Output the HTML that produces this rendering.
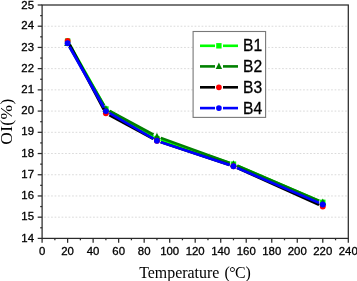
<!DOCTYPE html>
<html><head><meta charset="utf-8"><title>OI vs Temperature</title>
<style>html,body{margin:0;padding:0;background:#fff}body{width:357px;height:281px;overflow:hidden}svg{display:block}.t{font-family:"Liberation Sans",Arial,sans-serif;font-size:11.4px;fill:#000;stroke:#000;stroke-width:0.3px}.s{font-family:"Liberation Serif","Times New Roman",serif;fill:#000}.l{font-family:"Liberation Sans",Arial,sans-serif;font-size:15.6px;fill:#000;stroke:#000;stroke-width:0.3px}</style></head><body>
<svg width="357" height="281" viewBox="0 0 357 281">
<rect width="357" height="281" fill="#fff"/>
<line x1="42.10" x2="348.30" y1="217.18" y2="217.18" stroke="#dadada" stroke-width="1" stroke-dasharray="1.7 1.8" stroke-dashoffset="-2"/>
<line x1="42.10" x2="348.30" y1="195.96" y2="195.96" stroke="#dadada" stroke-width="1" stroke-dasharray="1.7 1.8" stroke-dashoffset="-2"/>
<line x1="42.10" x2="348.30" y1="174.75" y2="174.75" stroke="#dadada" stroke-width="1" stroke-dasharray="1.7 1.8" stroke-dashoffset="-2"/>
<line x1="42.10" x2="348.30" y1="153.53" y2="153.53" stroke="#dadada" stroke-width="1" stroke-dasharray="1.7 1.8" stroke-dashoffset="-2"/>
<line x1="42.10" x2="348.30" y1="132.31" y2="132.31" stroke="#dadada" stroke-width="1" stroke-dasharray="1.7 1.8" stroke-dashoffset="-2"/>
<line x1="42.10" x2="348.30" y1="111.09" y2="111.09" stroke="#dadada" stroke-width="1" stroke-dasharray="1.7 1.8" stroke-dashoffset="-2"/>
<line x1="42.10" x2="348.30" y1="89.87" y2="89.87" stroke="#dadada" stroke-width="1" stroke-dasharray="1.7 1.8" stroke-dashoffset="-2"/>
<line x1="42.10" x2="348.30" y1="68.65" y2="68.65" stroke="#dadada" stroke-width="1" stroke-dasharray="1.7 1.8" stroke-dashoffset="-2"/>
<line x1="42.10" x2="348.30" y1="47.44" y2="47.44" stroke="#dadada" stroke-width="1" stroke-dasharray="1.7 1.8" stroke-dashoffset="-2"/>
<line x1="42.10" x2="348.30" y1="26.22" y2="26.22" stroke="#dadada" stroke-width="1" stroke-dasharray="1.7 1.8" stroke-dashoffset="-2"/>
<line transform="scale(1.2,1)" x1="57.98" y1="44.56" x2="86.61" y2="105.48" stroke="#00ff00" stroke-width="2.5"/>
<line transform="scale(1.2,1)" x1="91.12" y1="110.98" x2="127.89" y2="136.66" stroke="#00ff00" stroke-width="2.5"/>
<line transform="scale(1.2,1)" x1="133.93" y1="139.94" x2="191.40" y2="162.87" stroke="#00ff00" stroke-width="2.5"/>
<line transform="scale(1.2,1)" x1="197.63" y1="165.71" x2="265.92" y2="200.76" stroke="#00ff00" stroke-width="2.5"/>
<rect x="64.92" y="38.37" width="5.4" height="5.4" fill="#00ff00"/>
<rect x="103.19" y="106.27" width="5.4" height="5.4" fill="#00ff00"/>
<rect x="154.23" y="135.97" width="5.4" height="5.4" fill="#00ff00"/>
<rect x="230.78" y="161.44" width="5.4" height="5.4" fill="#00ff00"/>
<rect x="320.08" y="199.63" width="5.4" height="5.4" fill="#00ff00"/>
<line transform="scale(1.2,1)" x1="58.02" y1="46.65" x2="86.57" y2="105.51" stroke="#008000" stroke-width="2.5"/>
<line transform="scale(1.2,1)" x1="91.18" y1="110.87" x2="127.84" y2="134.65" stroke="#008000" stroke-width="2.5"/>
<line transform="scale(1.2,1)" x1="133.91" y1="137.91" x2="191.43" y2="162.78" stroke="#008000" stroke-width="2.5"/>
<line transform="scale(1.2,1)" x1="197.63" y1="165.71" x2="265.92" y2="200.76" stroke="#008000" stroke-width="2.5"/>
<polygon points="67.62,39.29 71.12,46.09 64.12,46.09" fill="#008000"/>
<polygon points="105.89,105.07 109.39,111.87 102.39,111.87" fill="#008000"/>
<polygon points="156.93,132.65 160.43,139.45 153.43,139.45" fill="#008000"/>
<polygon points="233.47,160.24 236.97,167.04 229.97,167.04" fill="#008000"/>
<polygon points="322.78,198.43 326.28,205.23 319.28,205.23" fill="#008000"/>
<line transform="scale(1.2,1)" x1="57.91" y1="44.60" x2="86.68" y2="109.68" stroke="#000000" stroke-width="2.5"/>
<line transform="scale(1.2,1)" x1="91.18" y1="115.11" x2="127.84" y2="138.89" stroke="#000000" stroke-width="2.5"/>
<line transform="scale(1.2,1)" x1="133.93" y1="142.06" x2="191.40" y2="165.00" stroke="#000000" stroke-width="2.5"/>
<line transform="scale(1.2,1)" x1="197.60" y1="167.90" x2="265.95" y2="204.93" stroke="#000000" stroke-width="2.5"/>
<circle cx="67.62" cy="41.07" r="2.95" fill="#ff0000"/>
<circle cx="105.89" cy="113.21" r="2.95" fill="#ff0000"/>
<circle cx="156.93" cy="140.80" r="2.95" fill="#ff0000"/>
<circle cx="233.47" cy="166.26" r="2.95" fill="#ff0000"/>
<circle cx="322.78" cy="206.57" r="2.95" fill="#ff0000"/>
<line transform="scale(1.2,1)" x1="57.98" y1="46.68" x2="86.61" y2="107.61" stroke="#0000ff" stroke-width="2.5"/>
<line transform="scale(1.2,1)" x1="91.12" y1="113.10" x2="127.89" y2="138.78" stroke="#0000ff" stroke-width="2.5"/>
<line transform="scale(1.2,1)" x1="133.93" y1="142.06" x2="191.40" y2="165.00" stroke="#0000ff" stroke-width="2.5"/>
<line transform="scale(1.2,1)" x1="197.63" y1="167.83" x2="265.92" y2="202.88" stroke="#0000ff" stroke-width="2.5"/>
<circle cx="67.62" cy="43.19" r="2.95" fill="#0000ff"/>
<circle cx="105.89" cy="111.09" r="2.95" fill="#0000ff"/>
<circle cx="156.93" cy="140.80" r="2.95" fill="#0000ff"/>
<circle cx="233.47" cy="166.26" r="2.95" fill="#0000ff"/>
<circle cx="322.78" cy="204.45" r="2.95" fill="#0000ff"/>
<rect x="42.10" y="5.00" width="306.20" height="233.40" fill="none" stroke="#2a2a2a" stroke-width="1.25"/>
<line x1="37.70" x2="42.10" y1="238.40" y2="238.40" stroke="#2a2a2a" stroke-width="1.25"/>
<line x1="40.20" x2="42.10" y1="227.79" y2="227.79" stroke="#2a2a2a" stroke-width="1.25"/>
<line x1="37.70" x2="42.10" y1="217.18" y2="217.18" stroke="#2a2a2a" stroke-width="1.25"/>
<line x1="40.20" x2="42.10" y1="206.57" y2="206.57" stroke="#2a2a2a" stroke-width="1.25"/>
<line x1="37.70" x2="42.10" y1="195.96" y2="195.96" stroke="#2a2a2a" stroke-width="1.25"/>
<line x1="40.20" x2="42.10" y1="185.35" y2="185.35" stroke="#2a2a2a" stroke-width="1.25"/>
<line x1="37.70" x2="42.10" y1="174.75" y2="174.75" stroke="#2a2a2a" stroke-width="1.25"/>
<line x1="40.20" x2="42.10" y1="164.14" y2="164.14" stroke="#2a2a2a" stroke-width="1.25"/>
<line x1="37.70" x2="42.10" y1="153.53" y2="153.53" stroke="#2a2a2a" stroke-width="1.25"/>
<line x1="40.20" x2="42.10" y1="142.92" y2="142.92" stroke="#2a2a2a" stroke-width="1.25"/>
<line x1="37.70" x2="42.10" y1="132.31" y2="132.31" stroke="#2a2a2a" stroke-width="1.25"/>
<line x1="40.20" x2="42.10" y1="121.70" y2="121.70" stroke="#2a2a2a" stroke-width="1.25"/>
<line x1="37.70" x2="42.10" y1="111.09" y2="111.09" stroke="#2a2a2a" stroke-width="1.25"/>
<line x1="40.20" x2="42.10" y1="100.48" y2="100.48" stroke="#2a2a2a" stroke-width="1.25"/>
<line x1="37.70" x2="42.10" y1="89.87" y2="89.87" stroke="#2a2a2a" stroke-width="1.25"/>
<line x1="40.20" x2="42.10" y1="79.26" y2="79.26" stroke="#2a2a2a" stroke-width="1.25"/>
<line x1="37.70" x2="42.10" y1="68.65" y2="68.65" stroke="#2a2a2a" stroke-width="1.25"/>
<line x1="40.20" x2="42.10" y1="58.05" y2="58.05" stroke="#2a2a2a" stroke-width="1.25"/>
<line x1="37.70" x2="42.10" y1="47.44" y2="47.44" stroke="#2a2a2a" stroke-width="1.25"/>
<line x1="40.20" x2="42.10" y1="36.83" y2="36.83" stroke="#2a2a2a" stroke-width="1.25"/>
<line x1="37.70" x2="42.10" y1="26.22" y2="26.22" stroke="#2a2a2a" stroke-width="1.25"/>
<line x1="40.20" x2="42.10" y1="15.61" y2="15.61" stroke="#2a2a2a" stroke-width="1.25"/>
<line x1="37.70" x2="42.10" y1="5.00" y2="5.00" stroke="#2a2a2a" stroke-width="1.25"/>
<line y1="242.80" y2="238.40" x1="42.10" x2="42.10" stroke="#2a2a2a" stroke-width="1.25"/>
<line y1="240.30" y2="238.40" x1="54.86" x2="54.86" stroke="#2a2a2a" stroke-width="1.25"/>
<line y1="242.80" y2="238.40" x1="67.62" x2="67.62" stroke="#2a2a2a" stroke-width="1.25"/>
<line y1="240.30" y2="238.40" x1="80.38" x2="80.38" stroke="#2a2a2a" stroke-width="1.25"/>
<line y1="242.80" y2="238.40" x1="93.13" x2="93.13" stroke="#2a2a2a" stroke-width="1.25"/>
<line y1="240.30" y2="238.40" x1="105.89" x2="105.89" stroke="#2a2a2a" stroke-width="1.25"/>
<line y1="242.80" y2="238.40" x1="118.65" x2="118.65" stroke="#2a2a2a" stroke-width="1.25"/>
<line y1="240.30" y2="238.40" x1="131.41" x2="131.41" stroke="#2a2a2a" stroke-width="1.25"/>
<line y1="242.80" y2="238.40" x1="144.17" x2="144.17" stroke="#2a2a2a" stroke-width="1.25"/>
<line y1="240.30" y2="238.40" x1="156.93" x2="156.93" stroke="#2a2a2a" stroke-width="1.25"/>
<line y1="242.80" y2="238.40" x1="169.68" x2="169.68" stroke="#2a2a2a" stroke-width="1.25"/>
<line y1="240.30" y2="238.40" x1="182.44" x2="182.44" stroke="#2a2a2a" stroke-width="1.25"/>
<line y1="242.80" y2="238.40" x1="195.20" x2="195.20" stroke="#2a2a2a" stroke-width="1.25"/>
<line y1="240.30" y2="238.40" x1="207.96" x2="207.96" stroke="#2a2a2a" stroke-width="1.25"/>
<line y1="242.80" y2="238.40" x1="220.72" x2="220.72" stroke="#2a2a2a" stroke-width="1.25"/>
<line y1="240.30" y2="238.40" x1="233.47" x2="233.47" stroke="#2a2a2a" stroke-width="1.25"/>
<line y1="242.80" y2="238.40" x1="246.23" x2="246.23" stroke="#2a2a2a" stroke-width="1.25"/>
<line y1="240.30" y2="238.40" x1="258.99" x2="258.99" stroke="#2a2a2a" stroke-width="1.25"/>
<line y1="242.80" y2="238.40" x1="271.75" x2="271.75" stroke="#2a2a2a" stroke-width="1.25"/>
<line y1="240.30" y2="238.40" x1="284.51" x2="284.51" stroke="#2a2a2a" stroke-width="1.25"/>
<line y1="242.80" y2="238.40" x1="297.27" x2="297.27" stroke="#2a2a2a" stroke-width="1.25"/>
<line y1="240.30" y2="238.40" x1="310.03" x2="310.03" stroke="#2a2a2a" stroke-width="1.25"/>
<line y1="242.80" y2="238.40" x1="322.78" x2="322.78" stroke="#2a2a2a" stroke-width="1.25"/>
<line y1="240.30" y2="238.40" x1="335.54" x2="335.54" stroke="#2a2a2a" stroke-width="1.25"/>
<line y1="242.80" y2="238.40" x1="348.30" x2="348.30" stroke="#2a2a2a" stroke-width="1.25"/>
<text class="t" x="34" y="242.00" text-anchor="end">14</text>
<text class="t" x="34" y="220.33" text-anchor="end">15</text>
<text class="t" x="34" y="199.11" text-anchor="end">16</text>
<text class="t" x="34" y="177.90" text-anchor="end">17</text>
<text class="t" x="34" y="156.68" text-anchor="end">18</text>
<text class="t" x="34" y="135.46" text-anchor="end">19</text>
<text class="t" x="34" y="114.24" text-anchor="end">20</text>
<text class="t" x="34" y="93.02" text-anchor="end">21</text>
<text class="t" x="34" y="71.80" text-anchor="end">22</text>
<text class="t" x="34" y="50.59" text-anchor="end">23</text>
<text class="t" x="34" y="29.37" text-anchor="end">24</text>
<text class="t" x="34" y="9.00" text-anchor="end">25</text>
<text class="t" x="42.10" y="255.4" text-anchor="middle">0</text>
<text class="t" x="67.62" y="255.4" text-anchor="middle">20</text>
<text class="t" x="93.13" y="255.4" text-anchor="middle">40</text>
<text class="t" x="118.65" y="255.4" text-anchor="middle">60</text>
<text class="t" x="144.17" y="255.4" text-anchor="middle">80</text>
<text class="t" x="169.68" y="255.4" text-anchor="middle">100</text>
<text class="t" x="195.20" y="255.4" text-anchor="middle">120</text>
<text class="t" x="220.72" y="255.4" text-anchor="middle">140</text>
<text class="t" x="246.23" y="255.4" text-anchor="middle">160</text>
<text class="t" x="271.75" y="255.4" text-anchor="middle">180</text>
<text class="t" x="297.27" y="255.4" text-anchor="middle">200</text>
<text class="t" x="322.78" y="255.4" text-anchor="middle">220</text>
<text class="t" x="348.30" y="255.4" text-anchor="middle">240</text>
<text class="s" x="195" y="277.6" text-anchor="middle" font-size="15.9">Temperature <tspan dx="1.3">(</tspan><tspan dx="-0.5">°</tspan><tspan dx="-0.8">C</tspan>)</text>
<text class="s" transform="translate(12.1,121.6) rotate(-90)" text-anchor="middle" font-size="17.4" letter-spacing="0.4">OI(%)</text>
<rect x="193.1" y="31.5" width="72.5" height="85.9" fill="#fff" stroke="#787878" stroke-width="1.1"/>
<line x1="200" x2="215" y1="45.8" y2="45.8" stroke="#00ff00" stroke-width="2.6"/>
<line x1="223" x2="238" y1="45.8" y2="45.8" stroke="#00ff00" stroke-width="2.6"/>
<rect x="216.20" y="43.10" width="5.4" height="5.4" fill="#00ff00"/>
<text class="l" x="243" y="51.40">B1</text>
<line x1="200" x2="215" y1="66.4" y2="66.4" stroke="#008000" stroke-width="2.6"/>
<line x1="223" x2="238" y1="66.4" y2="66.4" stroke="#008000" stroke-width="2.6"/>
<polygon points="218.90,62.50 222.10,68.90 215.70,68.90" fill="#008000"/>
<text class="l" x="243" y="72.00">B2</text>
<line x1="200" x2="215" y1="87.3" y2="87.3" stroke="#000000" stroke-width="2.6"/>
<line x1="223" x2="238" y1="87.3" y2="87.3" stroke="#000000" stroke-width="2.6"/>
<circle cx="218.90" cy="87.30" r="2.85" fill="#ff0000"/>
<text class="l" x="243" y="92.90">B3</text>
<line x1="200" x2="215" y1="108.1" y2="108.1" stroke="#0000ff" stroke-width="2.6"/>
<line x1="223" x2="238" y1="108.1" y2="108.1" stroke="#0000ff" stroke-width="2.6"/>
<circle cx="218.90" cy="108.10" r="2.85" fill="#0000ff"/>
<text class="l" x="243" y="113.70">B4</text>
</svg></body></html>
